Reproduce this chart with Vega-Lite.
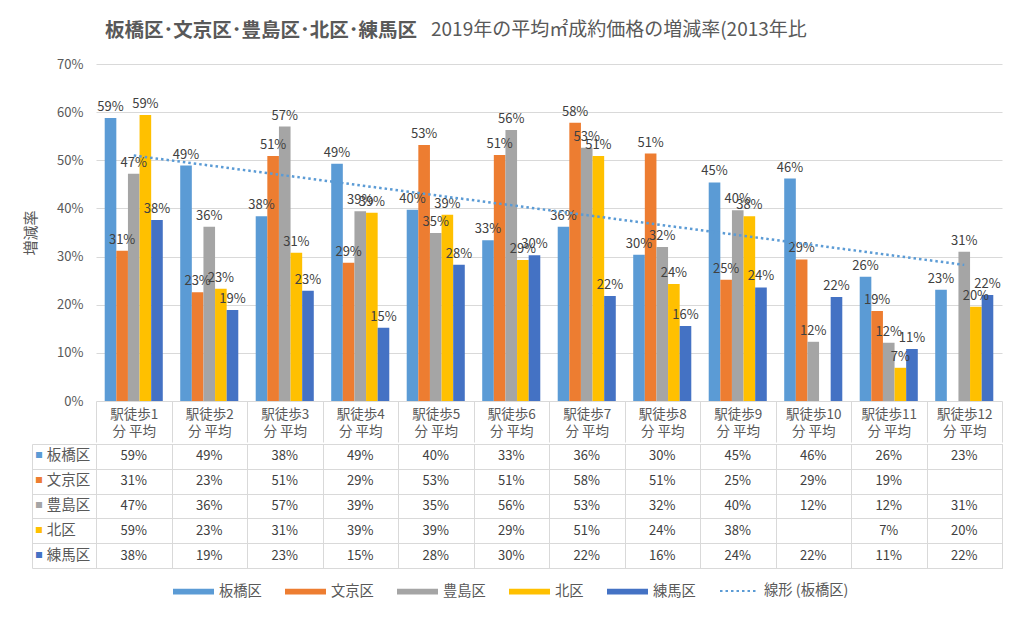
{
  "$schema": "https://vega.github.io/schema/vega-lite/v6.json",
  "padding": {"left": 23, "top": 20, "right": 5, "bottom": 5},
  "background": "white",
  "config": {"font": "Noto Sans CJK JP", "view": {"stroke": null}},
  "title": {"text": "2019年の平均㎡成約価格の増減率(2013年比", "anchor": "start", "frame": "group", "dx": 335, "dy": 19, "offset": 0, "fontSize": 19, "fontWeight": "normal", "color": "#595959"},
  "datasets": {
    "main": [
      {"cat": "駅徒歩1", "idx": 1, "ward": "板橋区", "value": 0.588},
      {"cat": "駅徒歩1", "idx": 1, "ward": "文京区", "value": 0.312},
      {"cat": "駅徒歩1", "idx": 1, "ward": "豊島区", "value": 0.472},
      {"cat": "駅徒歩1", "idx": 1, "ward": "北区", "value": 0.594},
      {"cat": "駅徒歩1", "idx": 1, "ward": "練馬区", "value": 0.376},
      {"cat": "駅徒歩2", "idx": 2, "ward": "板橋区", "value": 0.489},
      {"cat": "駅徒歩2", "idx": 2, "ward": "文京区", "value": 0.226},
      {"cat": "駅徒歩2", "idx": 2, "ward": "豊島区", "value": 0.362},
      {"cat": "駅徒歩2", "idx": 2, "ward": "北区", "value": 0.233},
      {"cat": "駅徒歩2", "idx": 2, "ward": "練馬区", "value": 0.189},
      {"cat": "駅徒歩3", "idx": 3, "ward": "板橋区", "value": 0.384},
      {"cat": "駅徒歩3", "idx": 3, "ward": "文京区", "value": 0.509},
      {"cat": "駅徒歩3", "idx": 3, "ward": "豊島区", "value": 0.570},
      {"cat": "駅徒歩3", "idx": 3, "ward": "北区", "value": 0.308},
      {"cat": "駅徒歩3", "idx": 3, "ward": "練馬区", "value": 0.229},
      {"cat": "駅徒歩4", "idx": 4, "ward": "板橋区", "value": 0.493},
      {"cat": "駅徒歩4", "idx": 4, "ward": "文京区", "value": 0.287},
      {"cat": "駅徒歩4", "idx": 4, "ward": "豊島区", "value": 0.394},
      {"cat": "駅徒歩4", "idx": 4, "ward": "北区", "value": 0.391},
      {"cat": "駅徒歩4", "idx": 4, "ward": "練馬区", "value": 0.152},
      {"cat": "駅徒歩5", "idx": 5, "ward": "板橋区", "value": 0.397},
      {"cat": "駅徒歩5", "idx": 5, "ward": "文京区", "value": 0.532},
      {"cat": "駅徒歩5", "idx": 5, "ward": "豊島区", "value": 0.349},
      {"cat": "駅徒歩5", "idx": 5, "ward": "北区", "value": 0.387},
      {"cat": "駅徒歩5", "idx": 5, "ward": "練馬区", "value": 0.283},
      {"cat": "駅徒歩6", "idx": 6, "ward": "板橋区", "value": 0.334},
      {"cat": "駅徒歩6", "idx": 6, "ward": "文京区", "value": 0.511},
      {"cat": "駅徒歩6", "idx": 6, "ward": "豊島区", "value": 0.563},
      {"cat": "駅徒歩6", "idx": 6, "ward": "北区", "value": 0.293},
      {"cat": "駅徒歩6", "idx": 6, "ward": "練馬区", "value": 0.303},
      {"cat": "駅徒歩7", "idx": 7, "ward": "板橋区", "value": 0.362},
      {"cat": "駅徒歩7", "idx": 7, "ward": "文京区", "value": 0.578},
      {"cat": "駅徒歩7", "idx": 7, "ward": "豊島区", "value": 0.526},
      {"cat": "駅徒歩7", "idx": 7, "ward": "北区", "value": 0.509},
      {"cat": "駅徒歩7", "idx": 7, "ward": "練馬区", "value": 0.218},
      {"cat": "駅徒歩8", "idx": 8, "ward": "板橋区", "value": 0.304},
      {"cat": "駅徒歩8", "idx": 8, "ward": "文京区", "value": 0.514},
      {"cat": "駅徒歩8", "idx": 8, "ward": "豊島区", "value": 0.320},
      {"cat": "駅徒歩8", "idx": 8, "ward": "北区", "value": 0.243},
      {"cat": "駅徒歩8", "idx": 8, "ward": "練馬区", "value": 0.156},
      {"cat": "駅徒歩9", "idx": 9, "ward": "板橋区", "value": 0.454},
      {"cat": "駅徒歩9", "idx": 9, "ward": "文京区", "value": 0.252},
      {"cat": "駅徒歩9", "idx": 9, "ward": "豊島区", "value": 0.396},
      {"cat": "駅徒歩9", "idx": 9, "ward": "北区", "value": 0.384},
      {"cat": "駅徒歩9", "idx": 9, "ward": "練馬区", "value": 0.236},
      {"cat": "駅徒歩10", "idx": 10, "ward": "板橋区", "value": 0.462},
      {"cat": "駅徒歩10", "idx": 10, "ward": "文京区", "value": 0.294},
      {"cat": "駅徒歩10", "idx": 10, "ward": "豊島区", "value": 0.123},
      {"cat": "駅徒歩10", "idx": 10, "ward": "練馬区", "value": 0.216},
      {"cat": "駅徒歩11", "idx": 11, "ward": "板橋区", "value": 0.258},
      {"cat": "駅徒歩11", "idx": 11, "ward": "文京区", "value": 0.187},
      {"cat": "駅徒歩11", "idx": 11, "ward": "豊島区", "value": 0.121},
      {"cat": "駅徒歩11", "idx": 11, "ward": "北区", "value": 0.069},
      {"cat": "駅徒歩11", "idx": 11, "ward": "練馬区", "value": 0.108},
      {"cat": "駅徒歩12", "idx": 12, "ward": "板橋区", "value": 0.231},
      {"cat": "駅徒歩12", "idx": 12, "ward": "豊島区", "value": 0.310},
      {"cat": "駅徒歩12", "idx": 12, "ward": "北区", "value": 0.196},
      {"cat": "駅徒歩12", "idx": 12, "ward": "練馬区", "value": 0.220}
    ],
    "cats": [
      {"idx": 1, "cat": "駅徒歩1"}, {"idx": 2, "cat": "駅徒歩2"}, {"idx": 3, "cat": "駅徒歩3"},
      {"idx": 4, "cat": "駅徒歩4"}, {"idx": 5, "cat": "駅徒歩5"}, {"idx": 6, "cat": "駅徒歩6"},
      {"idx": 7, "cat": "駅徒歩7"}, {"idx": 8, "cat": "駅徒歩8"}, {"idx": 9, "cat": "駅徒歩9"},
      {"idx": 10, "cat": "駅徒歩10"}, {"idx": 11, "cat": "駅徒歩11"}, {"idx": 12, "cat": "駅徒歩12"}
    ],
    "wards": [
      {"ward": "板橋区"}, {"ward": "文京区"}, {"ward": "豊島区"}, {"ward": "北区"}, {"ward": "練馬区"}
    ]
  },
  "spacing": 0,
  "resolve": {"scale": {"x": "independent", "y": "independent"}},
  "vconcat": [
    {
      "width": 906,
      "height": 337,
      "title": {"text": "板橋区･文京区･豊島区･北区･練馬区", "anchor": "start", "frame": "group", "dx": 9, "offset": 17, "fontSize": 19.5, "fontWeight": "bold", "color": "#595959"},
      "data": {"name": "main"},
      "layer": [
        {
          "mark": {"type": "bar"},
          "encoding": {
            "x": {"field": "cat", "type": "nominal",
              "scale": {"domain": ["駅徒歩1","駅徒歩2","駅徒歩3","駅徒歩4","駅徒歩5","駅徒歩6","駅徒歩7","駅徒歩8","駅徒歩9","駅徒歩10","駅徒歩11","駅徒歩12"], "paddingInner": 0, "paddingOuter": 0},
              "axis": {"title": null, "orient": "bottom", "domain": false, "tickBand": "extent", "tickSize": 41, "tickColor": "#D9D9D9", "labelExpr": "datum.label ? [datum.label, '分 平均'] : ''", "labelPadding": -35, "labelFontSize": 13.5, "labelColor": "#595959", "labelAngle": 0, "labelLineHeight": 17, "labelBaseline": "top"}},
            "xOffset": {"field": "ward", "type": "nominal", "scale": {"domain": ["板橋区","文京区","豊島区","北区","練馬区"], "paddingInner": 0, "paddingOuter": 0.75}},
            "y": {"field": "value", "type": "quantitative", "scale": {"domain": [0, 0.7], "nice": false},
              "axis": {"title": "増減率", "format": ".0%", "values": [0,0.1,0.2,0.3,0.4,0.5,0.6,0.7], "grid": true, "gridColor": "#D9D9D9", "domain": false, "ticks": false, "labelFontSize": 13, "labelColor": "#595959", "labelPadding": 13, "titleFontSize": 15, "titleColor": "#595959", "titleFontWeight": "normal", "titlePadding": 18}},
            "color": {"field": "ward", "type": "nominal",
              "scale": {"domain": ["板橋区","文京区","豊島区","北区","練馬区"], "range": ["#5B9BD5","#ED7D31","#A5A5A5","#FFC000","#4472C4"]},
              "legend": {"orient": "none", "legendX": 77, "legendY": 507, "direction": "horizontal", "columns": 5, "title": null, "padding": 0, "symbolType": "M-1,-0.14H1V0.14H-1Z", "symbolSize": 1681, "symbolStrokeWidth": 0, "labelFontSize": 14.3, "labelColor": "#595959", "columnPadding": 23, "labelOffset": 5}}
          }
        },
        {
          "mark": {"type": "text", "baseline": "bottom", "dy": -4, "fontSize": 13, "color": "#404040"},
          "encoding": {
            "x": {"field": "cat", "type": "nominal"},
            "xOffset": {"field": "ward", "type": "nominal"},
            "y": {"field": "value", "type": "quantitative"},
            "text": {"field": "value", "type": "quantitative", "format": ".0%"}
          }
        },
        {
          "transform": [
            {"filter": {"field": "ward", "equal": "板橋区"}},
            {"regression": "value", "on": "idx"},
            {"lookup": "idx", "from": {"data": {"name": "cats"}, "key": "idx", "fields": ["cat"]}}
          ],
          "mark": {"type": "line", "color": "#5B9BD5", "strokeWidth": 2.5},
          "encoding": {
            "x": {"field": "cat", "type": "nominal"},
            "y": {"field": "value", "type": "quantitative"},
            "strokeDash": {"datum": "線形 (板橋区)", "type": "nominal",
              "scale": {"domain": ["線形 (板橋区)"], "range": [[2.5, 3]]},
              "legend": {"orient": "none", "legendX": 623, "legendY": 507, "title": null, "padding": 0, "symbolType": "stroke", "symbolSize": 1444, "symbolStrokeWidth": 2, "symbolStrokeColor": "#5B9BD5", "labelFontSize": 14.3, "labelColor": "#595959", "labelOffset": 5}}
          }
        }
      ]
    },
    {
      "width": 906,
      "height": 124,
      "view": {"stroke": "#D9D9D9"},
      "layer": [
        {
          "data": {"name": "main"},
          "mark": {"type": "text", "fontSize": 13, "color": "#404040"},
          "encoding": {
            "x": {"field": "cat", "type": "nominal",
              "scale": {"domain": ["駅徒歩1","駅徒歩2","駅徒歩3","駅徒歩4","駅徒歩5","駅徒歩6","駅徒歩7","駅徒歩8","駅徒歩9","駅徒歩10","駅徒歩11","駅徒歩12"], "paddingInner": 0, "paddingOuter": 0},
              "axis": {"title": null, "labels": false, "ticks": false, "domain": false, "grid": true, "gridColor": "#D9D9D9", "tickBand": "extent"}},
            "y": {"field": "ward", "type": "nominal",
              "scale": {"domain": ["板橋区","文京区","豊島区","北区","練馬区"], "paddingInner": 0, "paddingOuter": 0},
              "axis": {"title": null, "labels": false, "offset": 64, "tickSize": -64, "tickBand": "extent", "tickColor": "#D9D9D9", "grid": true, "gridColor": "#D9D9D9", "domain": true, "domainColor": "#D9D9D9"}},
            "text": {"field": "value", "type": "quantitative", "format": ".0%"}
          }
        },
        {
          "data": {"name": "wards"},
          "mark": {"type": "text", "align": "left", "dx": -98.5, "fontSize": 7.5},
          "encoding": {
            "x": {"datum": "駅徒歩1", "type": "nominal"},
            "y": {"field": "ward", "type": "nominal"},
            "text": {"value": "■"},
            "fill": {"field": "ward", "type": "nominal", "scale": {"domain": ["板橋区","文京区","豊島区","北区","練馬区"], "range": ["#5B9BD5","#ED7D31","#A5A5A5","#FFC000","#4472C4"]}, "legend": null}
          }
        },
        {
          "data": {"name": "wards"},
          "mark": {"type": "text", "align": "left", "dx": -87, "fontSize": 14.5, "color": "#595959"},
          "encoding": {
            "x": {"datum": "駅徒歩1", "type": "nominal"},
            "y": {"field": "ward", "type": "nominal"},
            "text": {"field": "ward", "type": "nominal"}
          }
        }
      ]
    }
  ]
}
